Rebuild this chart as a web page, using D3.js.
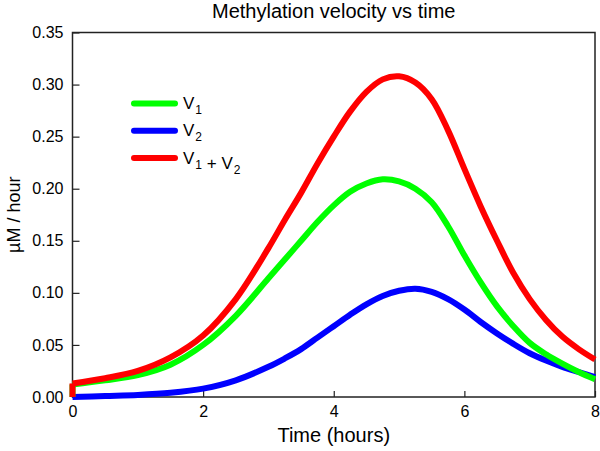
<!DOCTYPE html>
<html lang="en">
<head>
  <meta charset="UTF-8">
  <script src="https://cdn.jsdelivr.net/npm/d3@7"></script>
  <title>Methylation velocity vs time</title>
  <style>
    body { margin: 0; background: white; }
    * { font-family: Arial, 'Liberation Sans', sans-serif; }
    .tick text { font-size: 16px; fill: black; }
    .tick line { stroke: #222; stroke-width: 1.2; }
  </style>
</head>
<body>
  <script>
    // values (first two points: jump at t = 0)
    const time = [0, 0, 0.5, 1, 1.5, 2, 2.5, 3, 3.25, 3.5, 3.75, 4, 4.25, 4.5, 4.75, 5, 5.25, 5.5, 5.75, 6, 6.25, 6.5, 6.75, 7, 7.25, 7.5, 7.75, 8];
    const v1 = [0, 0.012, 0.016, 0.021, 0.031, 0.050, 0.078, 0.114, 0.132, 0.150, 0.168, 0.184, 0.197, 0.205, 0.209, 0.207, 0.200, 0.187, 0.164, 0.136, 0.110, 0.087, 0.068, 0.052, 0.041, 0.032, 0.024, 0.017];
    const v2 = [0, 0, 0.001, 0.002, 0.004, 0.008, 0.016, 0.029, 0.037, 0.046, 0.057, 0.068, 0.079, 0.089, 0.097, 0.102, 0.104, 0.101, 0.094, 0.084, 0.072, 0.061, 0.051, 0.042, 0.035, 0.029, 0.024, 0.019];
    const vSum = [0, 0.013, 0.018, 0.025, 0.038, 0.059, 0.094, 0.143, 0.170, 0.196, 0.224, 0.250, 0.274, 0.293, 0.305, 0.308, 0.302, 0.286, 0.256, 0.219, 0.183, 0.150, 0.119, 0.094, 0.074, 0.058, 0.046, 0.036];
    const xTicks = [0, 2, 4, 6, 8];
    const yTicks = [0, 0.05, 0.10, 0.15, 0.20, 0.25, 0.30, 0.35];

    const width = 600, height = 451;
    const mLeft = 72.5, mRight = 595, mTop = 32.5, mBottom = 397;

    const x = d3.scaleLinear().domain([0, 8]).range([mLeft, mRight]);
    const y = d3.scaleLinear().domain([0, 0.35]).range([mBottom, mTop]);

    const svg = d3.select('body').append('svg').attr('width', width).attr('height', height);

    svg.append('g').attr('transform', `translate(0,${mBottom})`)
      .call(d3.axisBottom(x).tickValues(xTicks).tickSize(-6).tickPadding(9).tickFormat(d3.format('d')))
      .call(g => g.select('.domain').remove());
    svg.append('g').attr('transform', `translate(${mLeft},0)`)
      .call(d3.axisLeft(y).tickValues(yTicks).tickSize(-7).tickPadding(9).tickFormat(d3.format('.2f')))
      .call(g => g.select('.domain').remove());

    svg.append('rect')
      .attr('x', mLeft).attr('y', mTop).attr('width', mRight - mLeft).attr('height', mBottom - mTop)
      .attr('fill', 'none').attr('stroke', '#222').attr('stroke-width', 1.5);

    const series = [
      { name: 'V2', values: v2, color: '#0000ff' },
      { name: 'V1', values: v1, color: '#00ff00' },
      { name: 'V1+V2', values: vSum, color: '#ff0000' }
    ];

    const pts = vals => vals.map((v, i) => [x(time[i]), y(v)]);
    const smooth = d3.line().curve(d3.curveCatmullRom.alpha(0.5));
    const straight = d3.line();

    const curves = svg.selectAll('.curve').data(series).enter().append('g').attr('class', 'curve');
    // the jump at t = 0 as a straight segment, the rest as a smooth curve
    curves.append('path')
      .attr('d', d => straight(pts(d.values).slice(0, 2)))
      .attr('fill', 'none').attr('stroke', d => d.color).attr('stroke-width', 6);
    curves.append('path')
      .attr('d', d => smooth(pts(d.values).slice(1)))
      .attr('fill', 'none').attr('stroke', d => d.color).attr('stroke-width', 6)
      .attr('stroke-linejoin', 'round');

    // legend
    const legend = [
      { parts: [['V', '1']], color: '#00ff00' },
      { parts: [['V', '2']], color: '#0000ff' },
      { parts: [['V', '1'], ['\u00a0+\u00a0V', '2']], color: '#ff0000' }
    ];
    const lg = svg.append('g');
    legend.forEach((d, i) => {
      const ly = 103.5 + i * 27.3;
      lg.append('line').attr('x1', 134).attr('x2', 175).attr('y1', ly).attr('y2', ly)
        .attr('stroke', d.color).attr('stroke-width', 6).attr('stroke-linecap', 'round');
      const t = lg.append('text').attr('x', 183).attr('y', ly + 5.5).attr('font-size', 17);
      d.parts.forEach(p => {
        t.append('tspan').text(p[0]);
        t.append('tspan').attr('font-size', 12).attr('dx', 1).attr('dy', 5).text(p[1]);
        t.append('tspan').attr('dy', -5).text('');
      });
    });

    svg.append('text').attr('x', (mLeft + mRight) / 2).attr('y', 18)
      .attr('text-anchor', 'middle').attr('font-size', 20).text('Methylation velocity vs time');
    svg.append('text').attr('x', (mLeft + mRight) / 2).attr('y', 442)
      .attr('text-anchor', 'middle').attr('font-size', 20).text('Time (hours)');
    svg.append('text').attr('transform', `translate(20,${(mTop + mBottom) / 2}) rotate(-90)`)
      .attr('text-anchor', 'middle').attr('font-size', 18).text('µM / hour');
  </script>
</body>
</html>
